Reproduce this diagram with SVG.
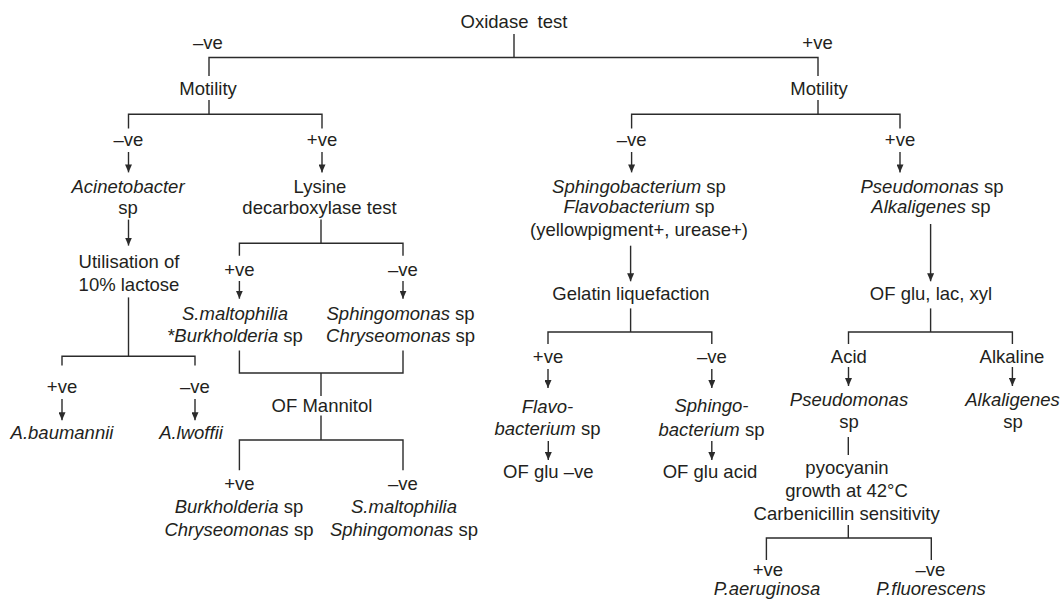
<svg xmlns="http://www.w3.org/2000/svg" width="1061" height="599" viewBox="0 0 1061 599">
<style>
text{font-family:"Liberation Sans",Arial,Helvetica,sans-serif;font-size:18.5px;fill:#231f20;text-anchor:middle}
.i{font-style:italic}
.c line,.c polyline{stroke:#2b2b2b;stroke-width:1.4;fill:none}
.a{marker-end:url(#ah)}
</style>
<defs>
<marker id="ah" viewBox="0 0 10 10" refX="10" refY="5" markerWidth="8" markerHeight="7" markerUnits="userSpaceOnUse" orient="auto" preserveAspectRatio="none">
<path d="M0,0 L10,5 L0,10 z" fill="#2b2b2b"/>
</marker>
</defs>
<rect width="1061" height="599" fill="#fff"/>
<g class="c" id="connectors">
<line x1="514" y1="34" x2="514" y2="57.5"/>
<polyline points="209,76 209,57.5 818,57.5 818,76"/>
<line x1="209" y1="100" x2="209" y2="114.3"/>
<polyline points="128.5,128.5 128.5,114.3 322,114.3 322,128.5"/>
<line x1="818" y1="100" x2="818" y2="114.3"/>
<polyline points="631.6,128.5 631.6,114.3 900,114.3 900,128.5"/>
<line class="a" x1="128.5" y1="152" x2="128.5" y2="172.4"/>
<line class="a" x1="322" y1="152" x2="322" y2="172.4"/>
<line class="a" x1="631.6" y1="152" x2="631.6" y2="172.4"/>
<line class="a" x1="900" y1="152" x2="900" y2="172.4"/>
<line class="a" x1="128.5" y1="219.6" x2="128.5" y2="245.6"/>
<line x1="321" y1="219.6" x2="321" y2="243.3"/>
<polyline points="239.4,255.8 239.4,243.3 403,243.3 403,255.8"/>
<line class="a" x1="239.4" y1="281" x2="239.4" y2="298.7"/>
<line class="a" x1="403" y1="281" x2="403" y2="298.7"/>
<line class="a" x1="630.6" y1="245.7" x2="630.6" y2="281.3"/>
<line class="a" x1="930.6" y1="224" x2="930.6" y2="281.3"/>
<line x1="128.5" y1="297.4" x2="128.5" y2="356.2"/>
<polyline points="62,365.6 62,356.2 195,356.2 195,365.6"/>
<line class="a" x1="62" y1="399" x2="62" y2="420.3"/>
<line class="a" x1="195" y1="399" x2="195" y2="420.3"/>
<polyline points="239.4,350.4 239.4,373 403,373 403,350.4"/>
<line x1="321" y1="373" x2="321" y2="396"/>
<line x1="321" y1="415.5" x2="321" y2="440"/>
<polyline points="239.4,470.3 239.4,440 403,440 403,470.3"/>
<line x1="630.6" y1="308.4" x2="630.6" y2="332"/>
<polyline points="548,344 548,332 711.8,332 711.8,344"/>
<line x1="930.6" y1="308.4" x2="930.6" y2="332"/>
<polyline points="848.5,344 848.5,332 1012.4,332 1012.4,344"/>
<line class="a" x1="548" y1="369" x2="548" y2="388"/>
<line class="a" x1="711.8" y1="369" x2="711.8" y2="388"/>
<line class="a" x1="848.5" y1="367" x2="848.5" y2="386"/>
<line class="a" x1="1012.4" y1="367" x2="1012.4" y2="386"/>
<line class="a" x1="548.3" y1="441" x2="548.3" y2="460"/>
<line class="a" x1="711.8" y1="441" x2="711.8" y2="460"/>
<line x1="848.3" y1="437" x2="848.3" y2="455"/>
<line x1="848.3" y1="525" x2="848.3" y2="538"/>
<polyline points="766.4,560 766.4,538 931.3,538 931.3,560"/>
</g>
<g id="n-oxidase"><text x="514" y="28" word-spacing="4">Oxidase test</text></g>
<g id="l-oxneg"><text x="208" y="49">–ve</text></g>
<g id="l-oxpos"><text x="817.5" y="49">+ve</text></g>
<g id="n-motility-l"><text x="208" y="95">Motility</text></g>
<g id="n-motility-r"><text x="819" y="95">Motility</text></g>
<g id="l-m1"><text x="128.5" y="146">–ve</text></g>
<g id="l-m2"><text x="322" y="146">+ve</text></g>
<g id="l-m3"><text x="631.6" y="146">–ve</text></g>
<g id="l-m4"><text x="900" y="146">+ve</text></g>
<g id="n-acineto"><text x="128" y="193.4"><tspan class="i">Acinetobacter</tspan><tspan x="128" y="213.5">sp</tspan></text></g>
<g id="n-lysine"><text x="320" y="193.4">Lysine<tspan x="319.5" y="213.5">decarboxylase test</tspan></text></g>
<g id="n-sphingo"><text x="639" y="193"><tspan class="i">Sphingobacterium</tspan> sp<tspan x="639" y="212.8"><tspan class="i">Flavobacterium</tspan> sp</tspan><tspan x="639" y="235.5">(yellowpigment+, urease+)</tspan></text></g>
<g id="n-pseudo"><text x="932" y="193"><tspan class="i">Pseudomonas</tspan> sp<tspan x="931" y="213.3"><tspan class="i">Alkaligenes</tspan> sp</tspan></text></g>
<g id="n-util"><text x="129" y="267.6">Utilisation of<tspan x="129" y="291.3">10% lactose</tspan></text></g>
<g id="l-ly1"><text x="239.4" y="276">+ve</text></g>
<g id="l-ly2"><text x="403" y="276">–ve</text></g>
<g id="n-smalto"><text x="235" y="320"><tspan class="i">S.maltophilia</tspan><tspan x="235" y="342"><tspan class="i">*Burkholderia</tspan> sp</tspan></text></g>
<g id="n-sphingomonas"><text x="400.6" y="320"><tspan class="i">Sphingomonas</tspan> sp<tspan x="400.6" y="342"><tspan class="i">Chryseomonas</tspan> sp</tspan></text></g>
<g id="n-gelatin"><text x="631" y="300">Gelatin liquefaction</text></g>
<g id="n-ofglu"><text x="931" y="300">OF glu, lac, xyl</text></g>
<g id="l-g1"><text x="548" y="362.5">+ve</text></g>
<g id="l-g2"><text x="712" y="362.5">–ve</text></g>
<g id="l-acid"><text x="848.8" y="362.5">Acid</text></g>
<g id="l-alk"><text x="1012" y="362.5">Alkaline</text></g>
<g id="l-u1"><text x="62" y="393.4">+ve</text></g>
<g id="l-u2"><text x="195" y="393.4">–ve</text></g>
<g id="n-abaum"><text x="62" y="439" class="i">A.baumannii</text></g>
<g id="n-alwoffii"><text x="191" y="439" class="i">A.lwoffii</text></g>
<g id="n-ofmannitol"><text x="322" y="412">OF Mannitol</text></g>
<g id="l-om1"><text x="239.4" y="489.6">+ve</text></g>
<g id="l-om2"><text x="403" y="489.6">–ve</text></g>
<g id="n-burk"><text x="239" y="513.3"><tspan class="i">Burkholderia</tspan> sp<tspan x="239" y="536"><tspan class="i">Chryseomonas</tspan> sp</tspan></text></g>
<g id="n-smalto2"><text x="404" y="513.3"><tspan class="i">S.maltophilia</tspan><tspan x="404" y="536"><tspan class="i">Sphingomonas</tspan> sp</tspan></text></g>
<g id="n-flavo"><text x="547.5" y="412.5"><tspan class="i">Flavo-</tspan><tspan x="547.5" y="435"><tspan class="i">bacterium</tspan> sp</tspan></text></g>
<g id="n-sphingo2"><text x="711.5" y="412"><tspan class="i">Sphingo-</tspan><tspan x="711.5" y="435.5"><tspan class="i">bacterium</tspan> sp</tspan></text></g>
<g id="n-ofneg"><text x="548.3" y="478">OF glu –ve</text></g>
<g id="n-ofacid"><text x="710" y="478">OF glu acid</text></g>
<g id="n-pseudo2"><text x="849" y="406"><tspan class="i">Pseudomonas</tspan><tspan x="849" y="428.3">sp</tspan></text></g>
<g id="n-alka2"><text x="1012.5" y="406"><tspan class="i">Alkaligenes</tspan><tspan x="1013" y="428.3">sp</tspan></text></g>
<g id="n-pyo"><text x="847" y="474">pyocyanin<tspan x="846.6" y="497">growth at 42°C</tspan><tspan x="846.6" y="520">Carbenicillin sensitivity</tspan></text></g>
<g id="l-p1"><text x="767.9" y="575.5">+ve</text></g>
<g id="l-p2"><text x="930.4" y="575.5">–ve</text></g>
<g id="n-paer"><text x="767" y="594.5" class="i">P.aeruginosa</text></g>
<g id="n-pfluo"><text x="931" y="594.5" class="i">P.fluorescens</text></g>
</svg>
